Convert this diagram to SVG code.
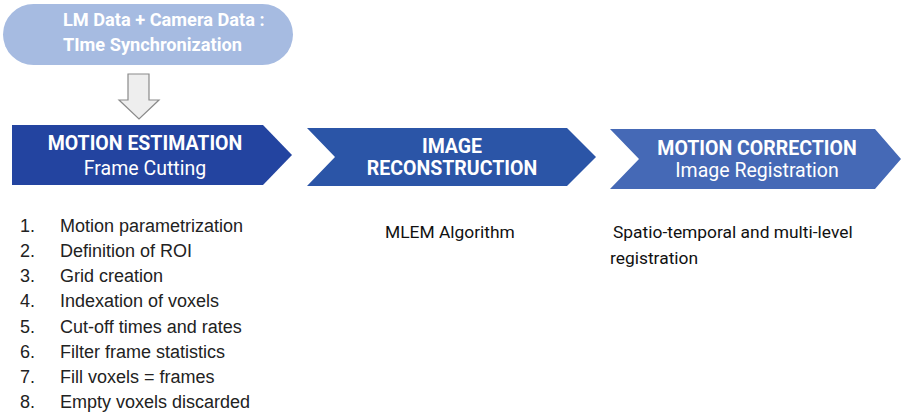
<svg xmlns="http://www.w3.org/2000/svg" width="903" height="414" viewBox="0 0 903 414">
<style>
.pl{font-family:Roboto,"Liberation Sans",sans-serif;font-weight:bold;font-size:18.2px;fill:#fff}
.hd{font-family:Roboto,"Liberation Sans",sans-serif;font-weight:bold;font-size:19.5px;fill:#fff}
.sb{font-family:Roboto,"Liberation Sans",sans-serif;font-size:19.5px;fill:#fff}
.li{font-family:"Liberation Sans",Arial,sans-serif;font-size:18px;fill:#222}
.tx{font-family:Roboto,"Liberation Sans",sans-serif;font-size:17.4px;fill:#111}
</style>
<rect width="903" height="414" fill="#fff"/>
<g id="sync">
<rect x="3" y="4" width="290" height="61" rx="30.5" fill="#a6bbe1"/>
<text class="pl" x="63" y="26">LM Data + Camera Data :</text>
<text class="pl" x="63" y="51">TIme Synchronization</text>
</g>
<g id="connectors">
<path d="M128,74 H149 V100 H159 L139,119 L119,100 H128 Z" fill="#eeeeee" stroke="#8a8a8a" stroke-width="1.2"/>
</g>
<g id="motion-estimation">
<path d="M12,125 H263 L292,155 L263,185 H12 Z" fill="#2344a0"/>
<text class="hd" x="145" y="150" text-anchor="middle">MOTION ESTIMATION</text>
<text class="sb" x="145" y="175" text-anchor="middle">Frame Cutting</text>
</g>
<g id="image-reconstruction">
<path d="M307,128 H567 L596,157 L567,186 H307 L335,157 Z" fill="#2b55a7"/>
<text class="hd" x="452" y="153" text-anchor="middle">IMAGE</text>
<text class="hd" x="452" y="175" text-anchor="middle">RECONSTRUCTION</text>
</g>
<g id="motion-correction">
<path d="M610,129 H875 L901,159 L875,189 H610 L639,159 Z" fill="#4569b6"/>
<text class="hd" x="757" y="155" text-anchor="middle">MOTION CORRECTION</text>
<text class="sb" x="757" y="177" text-anchor="middle">Image Registration</text>
</g>
<g id="steps">
<text class="li" x="20" y="232">1.</text><text class="li" x="60" y="232">Motion parametrization</text>
<text class="li" x="20" y="257">2.</text><text class="li" x="60" y="257">Definition of ROI</text>
<text class="li" x="20" y="282">3.</text><text class="li" x="60" y="282">Grid creation</text>
<text class="li" x="20" y="307">4.</text><text class="li" x="60" y="307">Indexation of voxels</text>
<text class="li" x="20" y="333">5.</text><text class="li" x="60" y="333">Cut-off times and rates</text>
<text class="li" x="20" y="358">6.</text><text class="li" x="60" y="358">Filter frame statistics</text>
<text class="li" x="20" y="383">7.</text><text class="li" x="60" y="383">Fill voxels = frames</text>
<text class="li" x="20" y="408">8.</text><text class="li" x="60" y="408">Empty voxels discarded</text>
</g>
<g id="mlem">
<text class="tx" x="385" y="238">MLEM Algorithm</text>
</g>
<g id="registration">
<text class="tx" x="613" y="238">Spatio-temporal and multi-level</text>
<text class="tx" x="610" y="264">registration</text>
</g>
</svg>
